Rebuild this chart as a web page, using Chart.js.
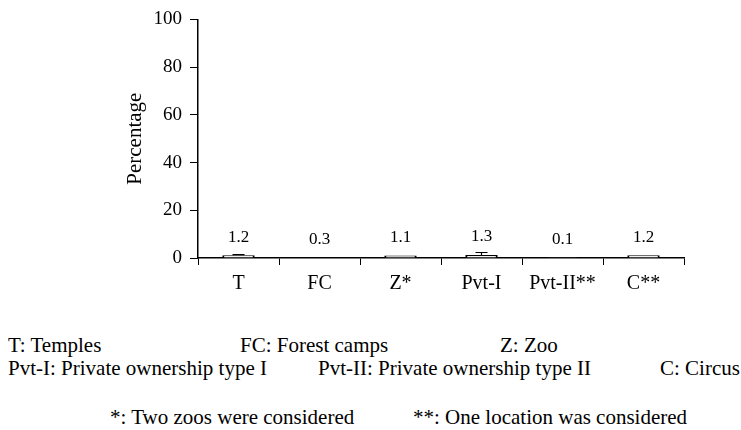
<!DOCTYPE html>
<html>
<head>
<meta charset="utf-8">
<script src="https://cdn.jsdelivr.net/npm/chart.js@4.4.0/dist/chart.umd.min.js"></script>
<style>
  body { margin: 0; background: #fff; width: 741px; height: 430px; position: relative; overflow: hidden; }
  #wrap { position: absolute; left: 0; top: 0; width: 741px; height: 300px; }
  .note { position: absolute; font-family: 'Liberation Serif', 'DejaVu Serif', serif; font-size: 21px; color: #000; line-height: 22px; white-space: nowrap; }
</style>
</head>
<body>
<div id="wrap"><canvas id="chart"></canvas></div>
<div class="note" style="left:8px; top:334px;">T: Temples</div>
<div class="note" style="left:240px; top:334px;">FC: Forest camps</div>
<div class="note" style="left:500px; top:334px;">Z: Zoo</div>
<div class="note" style="left:8px; top:357px;">Pvt-I: Private ownership type I</div>
<div class="note" style="left:318px; top:357px;">Pvt-II: Private ownership type II</div>
<div class="note" style="left:660px; top:357px;">C: Circus</div>
<div class="note" style="left:110px; top:406px;">*: Two zoos were considered</div>
<div class="note" style="left:413px; top:406px;">**: One location was considered</div>
<script>
// Data
const categories = ['T', 'FC', 'Z*', 'Pvt-I', 'Pvt-II**', 'C**'];
const percentages = [1.2, 0.3, 1.1, 1.3, 0.1, 1.2];
const errors = [0.2, 0, 0, 1.0, 0, 0];
const yTicks = [0, 20, 40, 60, 80, 100];

const serif = "'Liberation Serif', 'DejaVu Serif', serif";

// Error bars and value labels drawn over the bars
const extrasPlugin = {
    id: 'extras',
    afterDatasetsDraw(chart) {
        const ctx = chart.ctx;
        const meta = chart.getDatasetMeta(0);
        const yScale = chart.scales.y;
        ctx.save();
        meta.data.forEach((bar, i) => {
            const err = errors[i];
            if (err > 0) {
                const top = yScale.getPixelForValue(percentages[i] + err);
                const mid = yScale.getPixelForValue(percentages[i]);
                ctx.strokeStyle = '#000';
                ctx.lineWidth = 1.2;
                ctx.beginPath();
                ctx.moveTo(bar.x, mid);
                ctx.lineTo(bar.x, top);
                ctx.moveTo(bar.x - 6, top);
                ctx.lineTo(bar.x + 6, top);
                ctx.stroke();
            }
            ctx.fillStyle = '#000';
            ctx.font = '17px ' + serif;
            ctx.textAlign = 'center';
            ctx.textBaseline = 'middle';
            ctx.fillText(percentages[i].toFixed(1), bar.x, bar.y - 18);
        });
        ctx.restore();
    }
};

new Chart(document.getElementById('chart'), {
    type: 'bar',
    data: {
        labels: categories,
        datasets: [{
            data: percentages,
            backgroundColor: '#fff',
            borderColor: '#000',
            borderWidth: 2,
            barPercentage: 0.4,
            categoryPercentage: 1.0
        }]
    },
    options: {
        responsive: true,
        maintainAspectRatio: false,
        animation: false,
        layout: { padding: { left: 123, right: 57, top: 13, bottom: 0 } },
        plugins: { legend: { display: false }, tooltip: { enabled: false } },
        scales: {
            x: {
                grid: { display: true, drawOnChartArea: false, color: '#000', tickLength: 7, offset: true },
                border: { color: '#000', width: 1.5 },
                ticks: { color: '#000', font: { family: serif, size: 20 }, padding: 7 },
                afterFit(scale) { scale.height = 42; }
            },
            y: {
                min: 0,
                max: 100,
                afterBuildTicks(scale) { scale.ticks = yTicks.map(v => ({ value: v })); },
                grid: { display: true, drawOnChartArea: false, color: '#000', tickLength: 8 },
                border: { color: '#000', width: 1.5 },
                ticks: { color: '#000', font: { family: serif, size: 19 }, padding: 8 },
                title: { display: true, text: 'Percentage', color: '#000', font: { family: serif, size: 21 }, padding: 0 },
                afterFit(scale) { scale.width = 75; }
            }
        }
    },
    plugins: [extrasPlugin]
});
</script>
</body>
</html>
